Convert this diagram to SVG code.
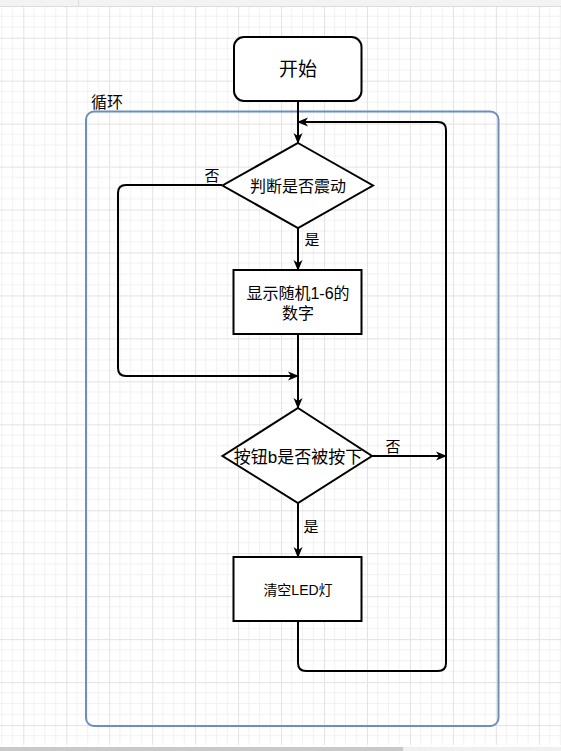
<svg xmlns="http://www.w3.org/2000/svg" width="561" height="751" viewBox="0 0 561 751">
<defs>
<pattern id="grid" patternUnits="userSpaceOnUse" x="23.3" y="37.7" width="42.96" height="42.96">
<path d="M10.74,0V42.96M21.48,0V42.96M32.22,0V42.96M0,10.74H42.96M0,21.48H42.96M0,32.22H42.96" stroke="#f1f1f1" stroke-width="1" fill="none"/>
<path d="M0.5,0V42.96M0,0.5H42.96" stroke="#e2e2e2" stroke-width="1" fill="none"/>
</pattern>
<marker id="arr" markerUnits="userSpaceOnUse" markerWidth="12" markerHeight="10" refX="10" refY="5" orient="auto">
<path d="M0,0.5 L11,5 L0,9.5 L3,5 Z" fill="#000"/>
</marker>
</defs>
<style>
.node{fill:#fff;stroke:#000;stroke-width:2}
.edge{fill:none;stroke:#000;stroke-width:2;marker-end:url(#arr)}
.edge2{fill:none;stroke:#000;stroke-width:2}
text{font-family:"Liberation Sans","Noto Sans CJK SC",sans-serif;fill:#000;text-anchor:middle;dominant-baseline:central}
</style>
<rect x="0" y="0" width="561" height="751" fill="#fff"/>
<rect x="0" y="7" width="561" height="738" fill="url(#grid)"/>
<rect x="0" y="0" width="561" height="6.5" fill="#f3f3f3"/>
<line x1="0" y1="6.5" x2="561" y2="6.5" stroke="#dcdcdc" stroke-width="1"/>
<line x1="78.5" y1="0" x2="78.5" y2="6" stroke="#dcdcdc" stroke-width="1"/>
<rect x="0" y="747" width="561" height="4" fill="#f0f0f0"/>
<rect x="0" y="747" width="403" height="4" fill="#c9c9c9"/>

<g id="container">
<rect x="86" y="111.5" width="412.5" height="614.5" rx="8" fill="none" stroke="#6c8ebf" stroke-width="2"/>
<text x="107" y="102" style="font-size:16px">循环</text>
</g>

<g id="connectors">
<path class="edge" d="M298,101 V143"/>
<path class="edge" d="M298,621 V663 Q298,671 306,671 H438 Q446,671 446,663 V130 Q446,122 438,122 H298"/>
<path class="edge" d="M298,228 V270"/>
<path class="edge" d="M222,185 H126 Q118,185 118,193 V368 Q118,376 126,376 H298"/>
<path class="edge" d="M298,334 V408"/>
<path class="edge" d="M372,456 H446"/>
<path class="edge" d="M298,503 V557"/>
<text x="212" y="175" style="font-size:15px">否</text>
<text x="312" y="239.5" style="font-size:15px">是</text>
<text x="393" y="446" style="font-size:15px">否</text>
<text x="311" y="526" style="font-size:15px">是</text>
</g>

<g id="start">
<rect class="node" x="234" y="37" width="127.5" height="64" rx="10"/>
<text x="298" y="69" style="font-size:19px">开始</text>
</g>

<g id="decision1">
<polygon class="node" points="298,143 373,185.5 298,228 222.5,185.5"/>
<text x="298" y="186.5" style="font-size:16px">判断是否震动</text>
</g>

<g id="show">
<rect class="node" x="233.5" y="270" width="128" height="64"/>
<text x="298" y="293" style="font-size:16px">显示随机1-6的</text>
<text x="298" y="313.5" style="font-size:16px">数字</text>
</g>

<g id="decision2">
<polygon class="node" points="298,408 372,456 298,503 222.5,456"/>
<text x="298" y="457" style="font-size:17px">按钮b是否被按下</text>
</g>

<g id="clear">
<rect class="node" x="233.5" y="557" width="128" height="64"/>
<text x="298" y="590" style="font-size:14px">清空LED灯</text>
</g>
</svg>
